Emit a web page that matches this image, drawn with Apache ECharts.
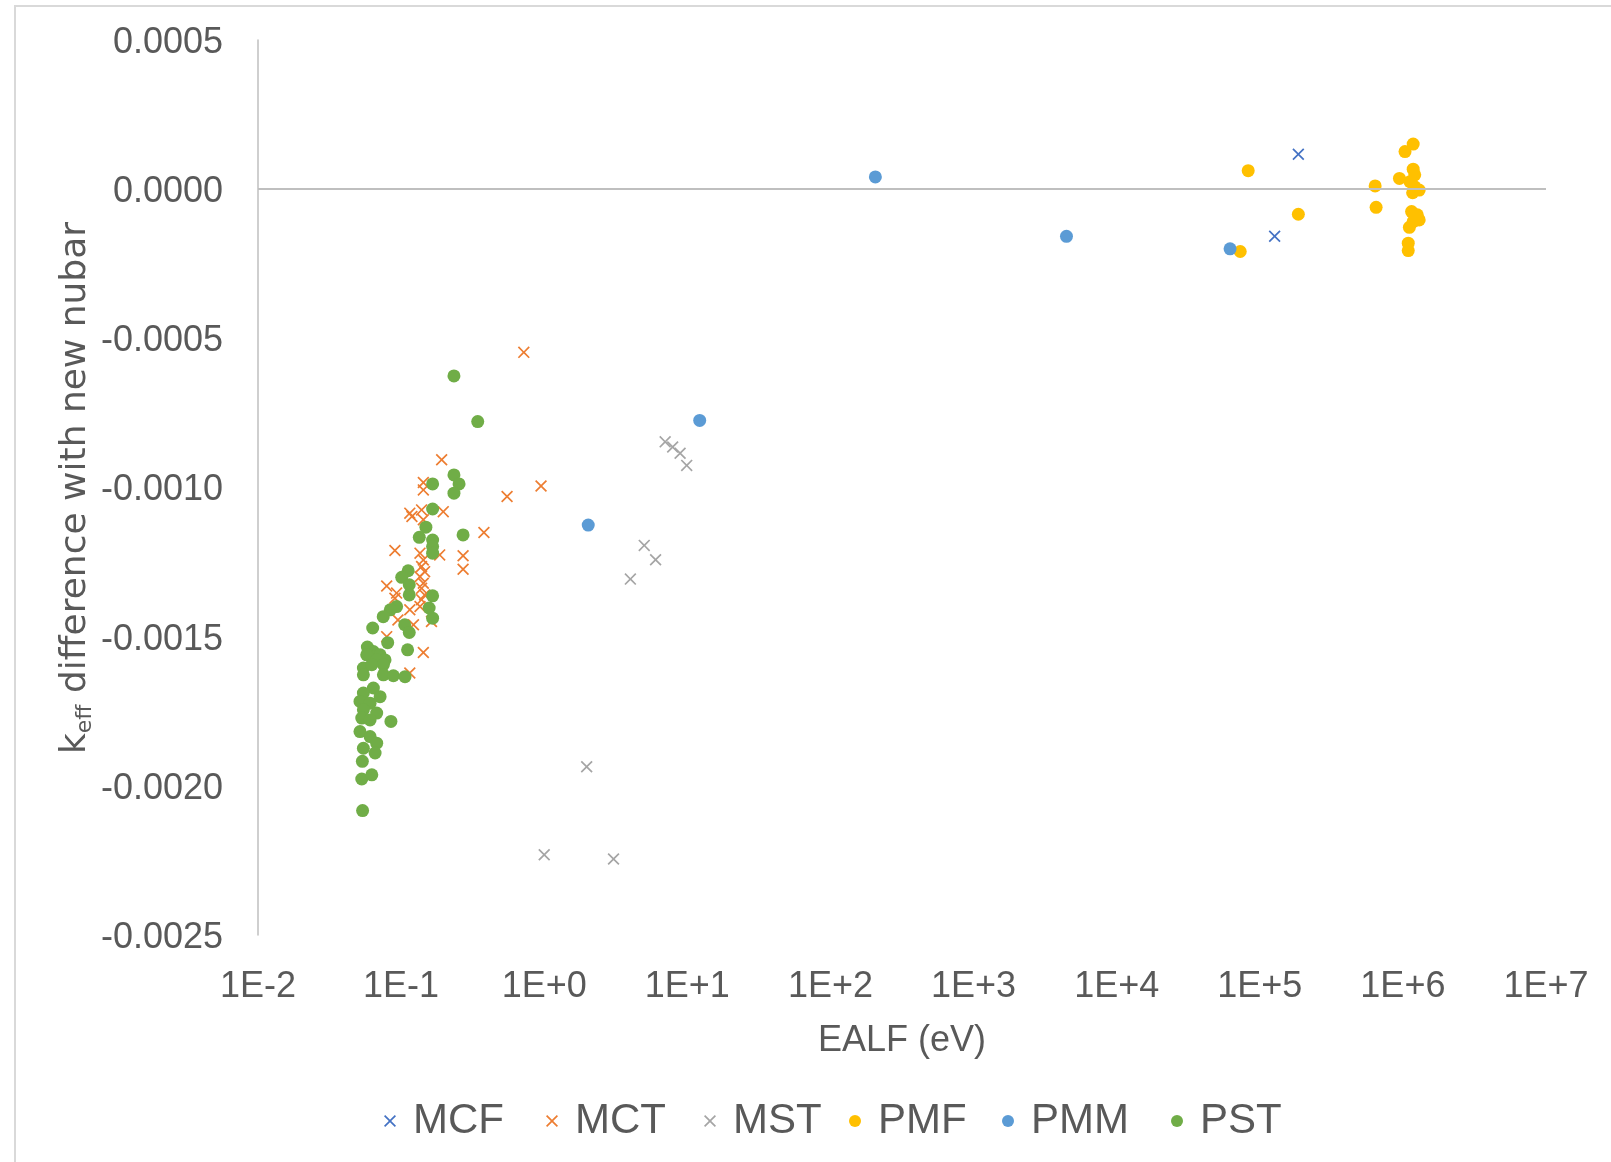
<!DOCTYPE html>
<html>
<head>
<meta charset="utf-8">
<script src="https://cdn.jsdelivr.net/npm/echarts@6/dist/echarts.min.js"></script>
<style>
html,body{margin:0;padding:0;background:#fff;}
#chart{width:1611px;height:1162px;}
</style>
</head>
<body>
<div id="chart"></div>
<script>
// ---- data (x = EALF in eV, y = keff difference) ----
const seriesNames = ['MCF', 'MCT', 'MST', 'PMF', 'PMM', 'PST'];

const mcfX = [1.86e5, 1.27e5];
const mcfY = [0.000117, -0.000158];

const mctX = [0.72, 0.192, 0.143, 0.143, 0.115, 0.119, 0.139, 0.143, 0.197, 0.55,
  0.95, 0.379, 0.0905, 0.186, 0.271, 0.271,
  0.1355, 0.143, 0.139, 0.146, 0.1355, 0.143, 0.139, 0.146, 0.139, 0.1355,
  0.0793, 0.093, 0.0905, 0.115, 0.095, 0.122, 0.163, 0.0793, 0.143, 0.115];
const mctY = [-0.000547, -0.000907, -0.000983, -0.001008, -0.001086, -0.001097, -0.001075, -0.001108, -0.001081, -0.00103,
  -0.000995, -0.001151, -0.001211, -0.001226, -0.001229, -0.001274,
  -0.00122, -0.001243, -0.001265, -0.001282, -0.001299, -0.001321, -0.001338, -0.00136, -0.001376, -0.001399,
  -0.00133, -0.001354, -0.001371, -0.00141, -0.001444, -0.00146, -0.001449, -0.0015, -0.001553, -0.001622];

const mstX = [7.0, 7.9, 8.9, 9.9, 5.0, 6.0, 4.0, 1.98, 1.0, 3.05];
const mstY = [-0.000847, -0.000864, -0.000885, -0.000926, -0.001194, -0.001242, -0.001307, -0.001936, -0.002231, -0.002245];

const pmfX = [8.3e4, 1.86e5, 7.3e4, 6.4e5, 6.5e5, 1.18e6, 1.035e6, 1.18e6, 9.46e5, 1.21e6,
  1.12e6, 1.21e6, 1.30e6, 1.17e6, 1.15e6, 1.26e6, 1.30e6, 1.18e6, 1.11e6, 1.09e6, 1.09e6];
const pmfY = [6.2e-5, -8.4e-5, -2.09e-4, 1.1e-5, -6.1e-5, 1.51e-4, 1.26e-4, 6.7e-5, 3.6e-5, 4.8e-5,
  2.5e-5, 8e-6, -3e-6, -1.2e-5, -7.5e-5, -8.6e-5, -1.03e-4, -1.09e-4, -1.28e-4, -1.81e-4, -2.06e-4];

const pmmX = [206, 4460, 6.2e4, 12.2, 2.03];
const pmmY = [4.1e-5, -1.58e-4, -2.0e-4, -7.75e-4, -1.126e-3];

const pstX = [0.234, 0.343, 0.234, 0.254, 0.234, 0.166, 0.166, 0.149, 0.134, 0.271,
  0.166, 0.166, 0.166, 0.112, 0.101, 0.114, 0.114, 0.166, 0.093, 0.084,
  0.075, 0.157, 0.166, 0.106, 0.114, 0.0633, 0.0806, 0.111, 0.0581, 0.064,
  0.0713, 0.0772, 0.0575, 0.0675, 0.0752, 0.0545, 0.0624, 0.0545, 0.0752, 0.0883,
  0.1065, 0.064, 0.0713, 0.0545, 0.0516, 0.0607, 0.0545, 0.0675, 0.0531, 0.0607,
  0.0849, 0.0516, 0.0607, 0.0675, 0.0545, 0.0658, 0.0536, 0.0531, 0.0624, 0.0538];
const pstY = [-0.000626, -0.000779, -0.000958, -0.000988, -0.001019, -0.000988, -0.001072, -0.001133, -0.001167, -0.001159,
  -0.001176, -0.001198, -0.00122, -0.001279, -0.001301, -0.001326, -0.00136, -0.001363, -0.001399, -0.00141,
  -0.001433, -0.001404, -0.001438, -0.00146, -0.001486, -0.001471, -0.00152, -0.001544, -0.001535, -0.00155,
  -0.001561, -0.001578, -0.001561, -0.001578, -0.001594, -0.001605, -0.001594, -0.001628, -0.001628, -0.001631,
  -0.001634, -0.001672, -0.001701, -0.001689, -0.001717, -0.001723, -0.001745, -0.001756, -0.001773, -0.001779,
  -0.001784, -0.001818, -0.001835, -0.001857, -0.001874, -0.00189, -0.001918, -0.001977, -0.001963, -0.002083];

const xTickValues = ['1E-2', '1E-1', '1E+0', '1E+1', '1E+2', '1E+3', '1E+4', '1E+5', '1E+6', '1E+7'];
const yTickLabels = ['-0.0025', '-0.0020', '-0.0015', '-0.0010', '-0.0005', '0.0000', '0.0005'];

// ---- styling ----
const colors = {MCF: '#4472c4', MCT: '#ed7d31', MST: '#a5a5a5', PMF: '#ffc000', PMM: '#5b9bd5', PST: '#70ad47'};
const legendLeft = {MCF: 379, MCT: 541, MST: 699, PMF: 844, PMM: 997, PST: 1166};
const xShape = 'path://M0,10L10,0L50,40L90,0L100,10L60,50L100,90L90,100L50,60L10,100L0,90L40,50Z';
const textColor = '#595959';
const numFont = '"Liberation Sans", Arial, sans-serif';

function zip(xs, ys) { return xs.map((x, i) => [x, ys[i]]); }

function scatter(name, xs, ys, isCross) {
  return {
    name: name,
    type: 'scatter',
    data: zip(xs, ys),
    symbol: isCross ? xShape : 'circle',
    symbolSize: isCross ? 12 : 13,
    symbolKeepAspect: true,
    itemStyle: {color: colors[name], opacity: 1},
    emphasis: {disabled: true},
    animation: false
  };
}

const series = [
  scatter('MCF', mcfX, mcfY, true),
  scatter('MCT', mctX, mctY, true),
  scatter('MST', mstX, mstY, true),
  scatter('PMF', pmfX, pmfY, false),
  scatter('PMM', pmmX, pmmY, false),
  scatter('PST', pstX, pstY, false)
];
// zero line drawn as the horizontal axis crossing
series[0].markLine = {
  silent: true,
  symbol: ['none', 'none'],
  label: {show: false},
  lineStyle: {color: '#bfbfbf', width: 2, type: 'solid'},
  data: [{yAxis: 0}],
  animation: false
};

// y title with subscript, built as rotated text group
const ctx = document.createElement('canvas').getContext('2d');
function tw(t, f) { ctx.font = f; return ctx.measureText(t).width; }
const tMain = '36px "DejaVu Sans"';
const tSub = '22px "DejaVu Sans"';
const w1 = tw('k', tMain), w2 = tw('eff', tSub), w3 = tw(' difference with new nubar', tMain);
const total = w1 + w2 + w3;
const x0 = -total / 2;

// one legend block per series so each item sits where the reference has it
const legends = seriesNames.map((n, i) => ({
  left: legendLeft[n],
  top: 1095,
  orient: 'horizontal',
  itemWidth: 36,
  itemHeight: 12,
  symbolKeepAspect: true,
  textStyle: {color: textColor, fontSize: 42, fontFamily: numFont},
  data: [{name: n, icon: i < 3 ? xShape : 'circle'}]
}));

const chart = echarts.init(document.getElementById('chart'), null, {renderer: 'canvas'});
chart.setOption({
  animation: false,
  backgroundColor: '#ffffff',
  grid: {left: 258, top: 40, right: 65, bottom: 227, containLabel: false},
  xAxis: {
    type: 'log',
    logBase: 10,
    min: 0.01,
    max: 1e7,
    axisLine: {show: false},
    axisTick: {show: false},
    splitLine: {show: false},
    axisLabel: {
      color: textColor, fontSize: 36, fontFamily: numFont, margin: 34,
      formatter: function (v) {
        const e = Math.round(Math.log10(v));
        return xTickValues[e + 2];
      }
    },
    name: 'EALF (eV)',
    nameLocation: 'middle',
    nameGap: 88,
    nameTextStyle: {color: textColor, fontSize: 36, fontFamily: numFont}
  },
  yAxis: {
    type: 'value',
    min: -0.0025,
    max: 0.0005,
    interval: 0.0005,
    axisLine: {show: true, onZero: false, lineStyle: {color: '#bfbfbf', width: 1.5}},
    axisTick: {show: false},
    splitLine: {show: false},
    axisLabel: {
      color: textColor, fontSize: 36, fontFamily: numFont, margin: 35,
      formatter: function (v) {
        const i = Math.round((v + 0.0025) / 0.0005);
        return '{v|' + yTickLabels[i] + '}';
      },
      rich: {v: {color: textColor, fontSize: 36, fontFamily: numFont, padding: [6, 0, 0, 0]}}
    }
  },
  legend: legends,
  graphic: [
    {
      type: 'rect', z: -10, silent: true,
      shape: {x: 15, y: 6, width: 1700, height: 1300},
      style: {fill: 'none', stroke: '#d9d9d9', lineWidth: 2}
    },
    {
      type: 'group',
      x: 76, y: 488,
      rotation: Math.PI / 2,
      children: [
        {type: 'text', x: x0, y: 0, style: {text: 'k', font: tMain, fill: textColor, align: 'left', verticalAlign: 'middle'}},
        {type: 'text', x: x0 + w1, y: 9, style: {text: 'eff', font: tSub, fill: textColor, align: 'left', verticalAlign: 'middle'}},
        {type: 'text', x: x0 + w1 + w2, y: 0, style: {text: ' difference with new nubar', font: tMain, fill: textColor, align: 'left', verticalAlign: 'middle'}}
      ]
    }
  ],
  series: series
});
</script>
</body>
</html>
